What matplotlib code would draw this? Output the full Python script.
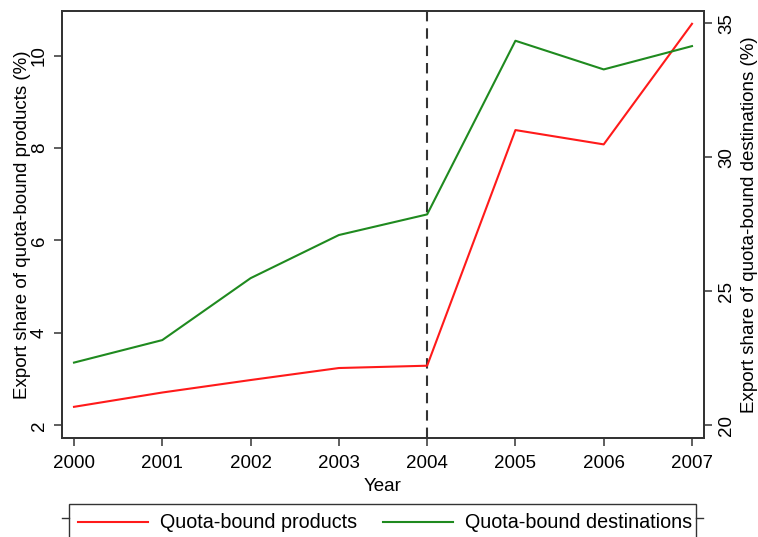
import matplotlib
matplotlib.use("Agg")
import matplotlib.pyplot as plt
from matplotlib.lines import Line2D
from matplotlib.patches import Rectangle

plt.rcParams["font.family"] = ["Liberation Sans", "DejaVu Sans"]
plt.rcParams["lines.scale_dashes"] = False

years = [2000, 2001, 2002, 2003, 2004, 2005, 2006, 2007]
products_share = [2.40, 2.71, 2.98, 3.24, 3.29, 8.39, 8.08, 10.69]
destinations_share = [22.34, 23.18, 25.49, 27.10, 27.87, 34.35, 33.28, 34.15]
left_ticks = [2, 4, 6, 8, 10]
right_ticks = [20, 25, 30, 35]
event_year = 2004

RED = "#ff1a1a"
GREEN = "#1f8a1f"
FRAME = "#333333"
FS = 13.5
LEG_FS = 14.2

W, H = 758, 537
fig = plt.figure(figsize=(W / 100, H / 100), dpi=100)
ax = fig.add_axes([62 / W, 1 - 438.3 / H, (704 - 62) / W, (438.3 - 11) / H])
ax2 = ax.twinx()

ax.plot(years, products_share, color=RED, lw=1.5, zorder=3)
ax2.plot(years, destinations_share, color=GREEN, lw=1.5, zorder=3)
ax.axvline(event_year, color=FRAME, lw=1.5, dashes=(7.5, 5.0), zorder=2)

ax.set_xlim(1999.864, 2007.136)
ax.set_ylim(1.719, 10.967)
ax2.set_ylim(19.515, 35.46)

ax.set_xticks(years)
ax.set_xticklabels([str(y) for y in years], fontsize=FS)
ax.set_yticks(left_ticks)
ax.set_yticklabels([str(t) for t in left_ticks], fontsize=FS, rotation=90, va="center")
ax2.set_yticks(right_ticks)
ax2.set_yticklabels([str(t) for t in right_ticks], fontsize=FS, rotation=90, va="center")

ax.tick_params(axis="x", direction="out", length=6, width=1.1, color=FRAME, pad=6)
ax.tick_params(axis="y", direction="out", length=6, width=1.1, color=FRAME, pad=4)
ax2.tick_params(axis="y", direction="out", length=6, width=1.1, color=FRAME, pad=4)

for a in (ax, ax2):
    for s in a.spines.values():
        s.set_color(FRAME)
        s.set_linewidth(1.3)

ax.set_xlabel("Year", fontsize=FS, labelpad=4)
ax.set_ylabel("Export share of quota-bound products (%)", fontsize=FS, labelpad=0)
ax2.set_ylabel("Export share of quota-bound destinations (%)", fontsize=FS, labelpad=4.5)

# legend box, running past the lower edge of the figure
def fx(px):
    return px / W

def fy(py):
    return 1 - py / H

fig.add_artist(Rectangle((fx(69), fy(560)), fx(696) - fx(69), fy(504) - fy(560),
                         transform=fig.transFigure, fill=False, edgecolor=FRAME, lw=1.0))
fig.add_artist(Line2D([fx(62), fx(69)], [fy(518), fy(518)], transform=fig.transFigure,
                      color=FRAME, lw=1.0))
fig.add_artist(Line2D([fx(696), fx(703)], [fy(518), fy(518)], transform=fig.transFigure,
                      color=FRAME, lw=1.0))

legend_items = [("Quota-bound products", RED, 78), ("Quota-bound destinations", GREEN, 383)]
for label, color, x0 in legend_items:
    fig.add_artist(Line2D([fx(x0), fx(x0 + 70)], [fy(522), fy(522)], transform=fig.transFigure,
                          color=color, lw=1.5))
    fig.text(fx(x0 + 82), fy(522), label, fontsize=LEG_FS, va="center", ha="left")

fig.savefig("out.png", dpi=100)
